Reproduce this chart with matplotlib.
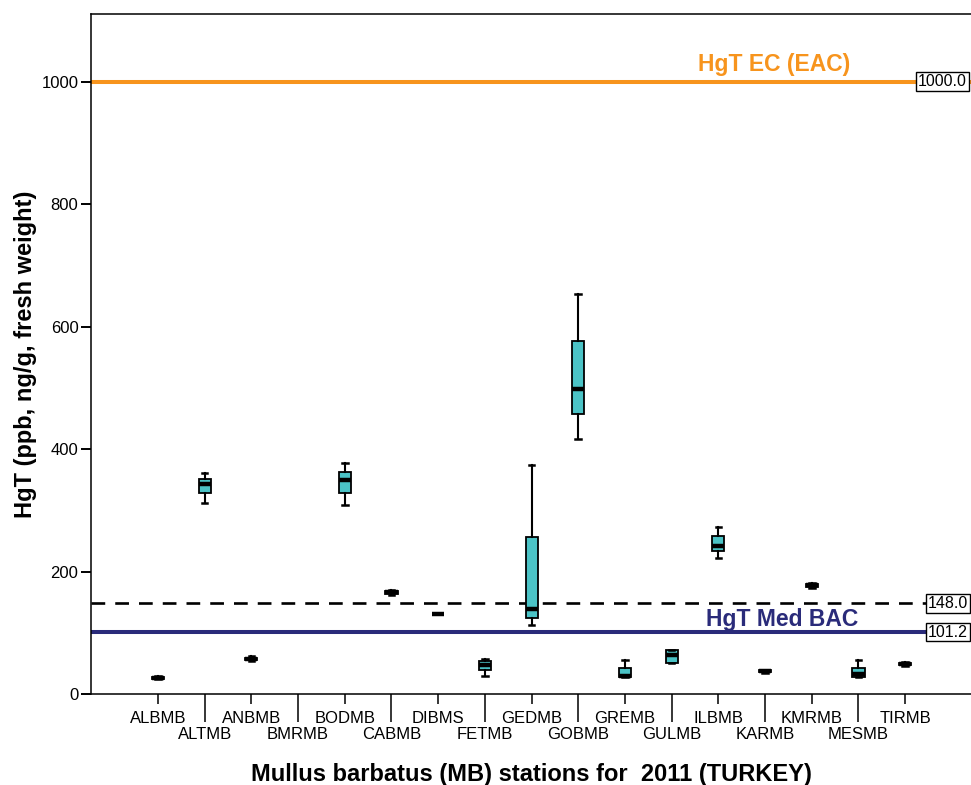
import numpy as np
import matplotlib
matplotlib.use("Agg")
import matplotlib.pyplot as plt
import matplotlib.transforms as mtransforms

plt.rcParams['font.family'] = ['Liberation Sans', 'DejaVu Sans']

# station codes and box statistics (HgT, ppb)
stations = ['ALBMB', 'ALTMB', 'ANBMB', 'BMRMB', 'BODMB', 'CABMB', 'DIBMS', 'FETMB', 'GEDMB',
            'GOBMB', 'GREMB', 'GULMB', 'ILBMB', 'KARMB', 'KMRMB', 'MESMB', 'TIRMB']
whis_lo = [24, 312, 54, None, 309, 161, 131, 29, 113, 417, 27, 51, 223, 35, 173, 28, 46]
q1 =      [25, 328, 55, None, 329, 164, 131, 40, 125, 457, 27, 51, 233, 36, 175, 28, 47]
median =  [26.5, 343, 57, None, 349, 166, 131, 47, 139, 499, 30, 63, 242, 37.5, 178, 32, 49]
q3 =      [28, 352, 59, None, 363, 168, 131, 54, 257, 576, 42, 72, 258, 39, 180, 43, 51]
whis_hi = [29, 361, 62, None, 378, 170, 131, 57, 374, 654, 56, 72, 273, 40, 181, 55, 52]

eac = 1000.0
med_bac = 101.2
dash_ref = 148.0

fig = plt.figure(figsize=(9.71, 7.85), dpi=100)
ax = fig.add_axes([0.0937, 0.1159, 0.9063, 0.8663])

pos = np.arange(1, len(stations) + 1)

stats = []
stat_pos = []
for i, s in enumerate(stations):
    if median[i] is None:
        continue
    stats.append({'med': median[i], 'q1': q1[i], 'q3': q3[i],
                  'whislo': whis_lo[i], 'whishi': whis_hi[i], 'fliers': []})
    stat_pos.append(pos[i])

# reference lines
ax.axhline(eac, color='#F7941D', lw=2.9, zorder=1)
ax.axhline(dash_ref, color='black', lw=1.9, ls=(0, (5.2, 3.8)), zorder=1)
ax.axhline(med_bac, color='#2A2B7A', lw=2.9, zorder=1)

ax.bxp(stats, positions=stat_pos, widths=0.26, capwidths=0.12, patch_artist=True,
       showfliers=False, manage_ticks=False,
       boxprops=dict(facecolor='#4BC3C6', edgecolor='black', linewidth=1.3),
       medianprops=dict(color='black', linewidth=3.2, solid_capstyle='butt'),
       whiskerprops=dict(color='black', linewidth=1.5),
       capprops=dict(color='black', linewidth=1.8),
       zorder=3)

ax.set_xlim(-0.435, 18.41)
ax.set_ylim(0, 1111)

ax.set_yticks([0, 200, 400, 600, 800, 1000])
ax.tick_params(axis='y', length=7, width=1.4, labelsize=12, pad=2)

# alternating two-row x labels
ax.set_xticks(pos[::2], stations[::2])
ax.set_xticks(pos[1::2], stations[1::2], minor=True)
ax.tick_params(axis='x', which='major', length=7.5, width=1.1, labelsize=12, pad=4.5)
ax.tick_params(axis='x', which='minor', length=20, width=1.1, labelsize=12, pad=4)

for sp in ['left', 'bottom', 'top']:
    ax.spines[sp].set_linewidth(1.1)
ax.spines['right'].set_visible(False)

ax.set_xlabel('Mullus barbatus (MB) stations for  2011 (TURKEY)', fontsize=17,
              fontweight='bold', labelpad=15)
ax.set_ylabel('HgT (ppb, ng/g, fresh weight)', fontsize=17, fontweight='bold', labelpad=3)

# labels on the reference lines
ax.text(14.19, 1028, 'HgT EC (EAC)', color='#F7941D', fontsize=16.5, fontweight='bold',
        ha='center', va='center')
ax.text(14.36, 121, 'HgT Med BAC', color='#2A2B7A', fontsize=16.5, fontweight='bold',
        ha='center', va='center')

trans = mtransforms.blended_transform_factory(ax.transAxes, ax.transData)
box = dict(boxstyle='square,pad=0.12', facecolor='white', edgecolor='black', linewidth=1)
ax.text(0.9395, eac, '%.1f' % eac, transform=trans, fontsize=11.5, ha='left', va='center',
        bbox=box, zorder=5)
ax.text(0.951, dash_ref, '%.1f' % dash_ref, transform=trans, fontsize=11.5, ha='left',
        va='center', bbox=box, zorder=5)
ax.text(0.951, med_bac, '%.1f' % med_bac, transform=trans, fontsize=11.5, ha='left',
        va='center', bbox=box, zorder=5)

fig.savefig('out.png', dpi=100)
